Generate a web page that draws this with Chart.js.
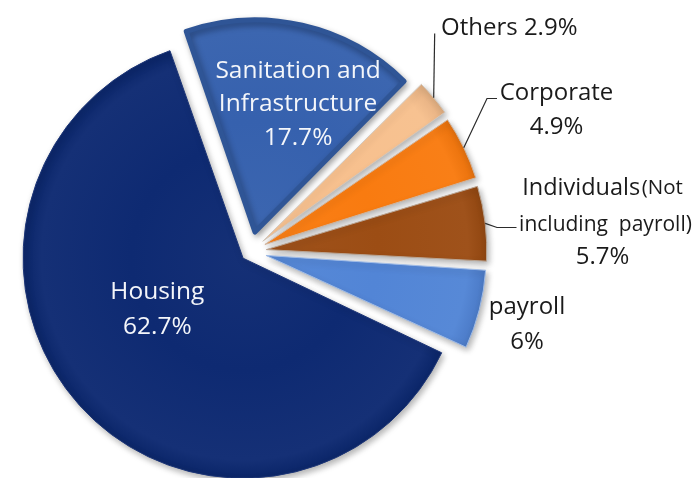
<!DOCTYPE html>
<html>
<head>
<meta charset="utf-8">
<script src="https://cdn.jsdelivr.net/npm/chart.js@4.4.1/dist/chart.umd.min.js"></script>
<style>
  html, body { margin: 0; padding: 0; background: #ffffff; }
  #wrap { width: 697px; height: 478px; position: relative; }
</style>
</head>
<body>
<div id="wrap"><canvas id="pie"></canvas></div>
<script>
// Shares of the portfolio, in drawing order (clockwise from the top-left cut)
const categories = ['Sanitation and Infrastructure', 'Others', 'Corporate',
                    'Individuals (Not including payroll)', 'payroll', 'Housing'];
const shares = [17.7, 2.9, 4.9, 5.7, 6, 62.7];
const sliceColors = ['#3661ae', '#f7c08e', '#f97b10', '#9c4d14', '#5285d6', '#0e2a72'];

// Text lines printed for each slice (the percentage line is added from the value)
const labelLines = [
  ['Sanitation and', 'Infrastructure'],
  ['Others'],
  ['Corporate'],
  ['Individuals', '(Not', 'including  payroll)'],
  ['payroll'],
  ['Housing']
];

const pct = v => String(v) + '%';
const FONT = '"Open Sans", "DejaVu Sans", sans-serif';

function shade(hex, amt) {
  const n = parseInt(hex.slice(1), 16);
  const r = n >> 16, g = (n >> 8) & 255, b = n & 255;
  const f = c => Math.max(0, Math.min(255, Math.round(amt >= 0 ? c + (255 - c) * amt : c * (1 + amt))));
  return `rgb(${f(r)},${f(g)},${f(b)})`;
}

// Where an arc actually sits once Chart.js has pushed it out by its offset:
// the arc is shifted by offset/4 along its middle angle and its radius grows
// by the remaining part of the offset.
function arcGeometry(arc) {
  const p = arc.getProps(['x', 'y', 'startAngle', 'endAngle', 'outerRadius']);
  const circ = p.endAngle - p.startAngle;
  const off = (arc.options.offset || 0) / 4;
  const fix = 1 - Math.sin(Math.min(Math.PI, circ));
  const mid = (p.startAngle + p.endAngle) / 2;
  return {
    cx: p.x + Math.cos(mid) * off, cy: p.y + Math.sin(mid) * off,
    x: p.x, y: p.y, mid, r: p.outerRadius + off * fix
  };
}

function drawLine(ctx, segs, x, y, align) {
  // segs: [[text, size], ...]
  let total = 0;
  const widths = segs.map(([t, s]) => { ctx.font = `${s}px ${FONT}`; const w = ctx.measureText(t).width; total += w; return w; });
  let sx = align === 'left' ? x : x - total / 2;
  ctx.textAlign = 'left';
  ctx.textBaseline = 'middle';
  segs.forEach(([t, s], k) => {
    ctx.font = `${s}px ${FONT}`;
    ctx.fillText(t, sx, y);
    sx += widths[k];
  });
}

const sliceLabels = {
  id: 'sliceLabels',
  afterDatasetsDraw(chart) {
    const ctx = chart.ctx;
    const arcs = chart.getDatasetMeta(0).data;
    const g = arcs.map(arcGeometry);
    const C = { x: g[0].x, y: g[0].y };
    const rim = i => ({ x: g[i].cx + Math.cos(g[i].mid) * g[i].r, y: g[i].cy + Math.sin(g[i].mid) * g[i].r });
    const polar = (i, deg, d) => {
      const a = (deg - 90) * Math.PI / 180;
      return { x: g[i].cx + Math.cos(a) * d, y: g[i].cy + Math.sin(a) * d };
    };
    const leader = (pts) => {
      ctx.save();
      ctx.strokeStyle = '#2b2b2b';
      ctx.lineWidth = 1.2;
      ctx.beginPath();
      ctx.moveTo(pts[0].x, pts[0].y);
      for (let k = 1; k < pts.length; k++) ctx.lineTo(pts[k].x, pts[k].y);
      ctx.stroke();
      ctx.restore();
    };
    const rel = (dx, dy) => ({ x: C.x + dx, y: C.y + dy });

    ctx.save();
    // labels printed on the slices
    ctx.fillStyle = '#f4f6fa';
    let p = polar(0, 18.6, 135);
    drawLine(ctx, [[labelLines[0][0], 24.5]], p.x, p.y - 33.5, 'center');
    drawLine(ctx, [[labelLines[0][1], 24.5]], p.x, p.y, 'center');
    drawLine(ctx, [[pct(shares[0]), 24.5]], p.x, p.y + 33.5, 'center');

    p = polar(5, 239, 100);
    drawLine(ctx, [[labelLines[5][0], 24.5]], p.x, p.y - 17.5, 'center');
    drawLine(ctx, [[pct(shares[5]), 24.5]], p.x, p.y + 17.5, 'center');

    // labels beside the slices
    ctx.fillStyle = '#1a1a1a';
    let r = rim(1);
    leader([r, { x: r.x + 1, y: C.y - 218 }]);
    let q = rel(190.5, -223);
    drawLine(ctx, [[labelLines[1][0] + ' ' + pct(shares[1]), 24]], q.x, q.y, 'left');

    r = rim(2);
    leader([r, rel(236.5, -153), rel(246.5, -153)]);
    q = rel(306, -158);
    drawLine(ctx, [[labelLines[2][0], 24]], q.x, q.y, 'center');
    drawLine(ctx, [[pct(shares[2]), 24]], q.x, q.y + 34, 'center');

    r = rim(3);
    leader([r, rel(246.5, -24), rel(266, -24)]);
    q = rel(352, -63);
    drawLine(ctx, [[labelLines[3][0], 23.5], [' ', 6], [labelLines[3][1], 20.5]], q.x, q.y, 'center');
    drawLine(ctx, [[labelLines[3][2], 21]], q.x + 3, q.y + 37, 'center');
    drawLine(ctx, [[pct(shares[3]), 24]], q.x, q.y + 69, 'center');

    q = rel(276.5, 56);
    drawLine(ctx, [[labelLines[4][0], 24]], q.x, q.y, 'center');
    drawLine(ctx, [[pct(shares[4]), 24]], q.x, q.y + 35, 'center');
    ctx.restore();
  }
};

// Soft drop shadow under the slices
const sliceShadow = {
  id: 'sliceShadow',
  beforeDatasetsDraw(chart) {
    const ctx = chart.ctx;
    ctx.save();
    ctx.shadowColor = 'rgba(0,0,0,0.3)';
    ctx.shadowBlur = 6;
    ctx.shadowOffsetX = 2;
    ctx.shadowOffsetY = 3;
  },
  afterDatasetsDraw(chart) {
    chart.ctx.restore();
  }
};

// Light bevel: slightly brighter toward the rim, darker right at the edge
function bevelFill(context) {
  const base = sliceColors[context.dataIndex];
  const chart = context.chart;
  const area = chart.chartArea;
  if (!area) return base;
  const cx = (area.left + area.right) / 2, cy = (area.top + area.bottom) / 2;
  const R = 224;
  const grad = chart.ctx.createRadialGradient(cx, cy, 0, cx, cy, R);
  grad.addColorStop(0, shade(base, 0.03));
  grad.addColorStop(0.5, base);
  grad.addColorStop(0.9, shade(base, 0.03));
  grad.addColorStop(0.96, shade(base, -0.05));
  grad.addColorStop(1, shade(base, -0.12));
  return grad;
}

new Chart(document.getElementById('pie'), {
  type: 'pie',
  data: {
    labels: categories,
    datasets: [{
      data: shares,
      backgroundColor: bevelFill,
      borderColor: ['#2f5596', '#d2c6ba', '#d0b39c', '#b9a594', '#9fbbe6', '#1c3577'],
      borderWidth: [5, 1, 1, 1, 1, 1],
      borderJoinStyle: 'round',
      offset: [80, 64, 64, 64, 64, 40],
      radius: 210
    }]
  },
  options: {
    responsive: true,
    maintainAspectRatio: false,
    animation: false,
    rotation: -19,
    layout: { padding: { left: 0, right: 196, top: 25, bottom: 0 } },
    plugins: {
      legend: { display: false },
      tooltip: { enabled: false }
    }
  },
  plugins: [sliceShadow, sliceLabels]
});
</script>
</body>
</html>
